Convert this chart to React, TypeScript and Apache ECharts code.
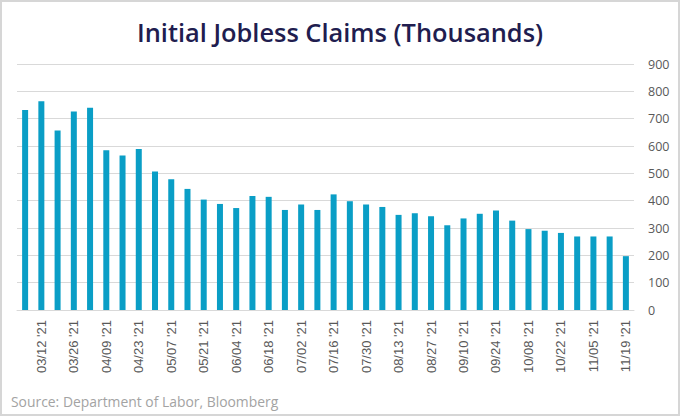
import React, { useEffect, useRef } from "react";
import * as echarts from "echarts";

const categories = [
  "03/05 '21", "03/12 '21", "03/19 '21", "03/26 '21", "04/02 '21", "04/09 '21", "04/16 '21", "04/23 '21",
  "04/30 '21", "05/07 '21", "05/14 '21", "05/21 '21", "05/28 '21", "06/04 '21", "06/11 '21", "06/18 '21",
  "06/25 '21", "07/02 '21", "07/09 '21", "07/16 '21", "07/23 '21", "07/30 '21", "08/06 '21", "08/13 '21",
  "08/20 '21", "08/27 '21", "09/03 '21", "09/10 '21", "09/17 '21", "09/24 '21", "10/01 '21", "10/08 '21",
  "10/15 '21", "10/22 '21", "10/29 '21", "11/05 '21", "11/12 '21", "11/19 '21",
];

const claims = [
  732, 764, 657, 726, 740, 584, 565, 589, 507, 478, 443, 404, 388, 373, 417, 414,
  366, 386, 366, 423, 398, 386, 377, 348, 354, 343, 310, 335, 352, 364, 327, 296,
  290, 282, 269, 269, 269, 197,
];

const yTicks = { min: 0, max: 900, interval: 100 };

const titleText = "Initial Jobless Claims (Thousands)";
const sourceText = "Source: Department of Labor, Bloomberg";

export default function App() {
  const ref = useRef<HTMLDivElement>(null);
  useEffect(() => {
    document.body.style.margin = "0";
    const chart = echarts.init(ref.current!, undefined, { renderer: "svg" });
    chart.setOption({
      animation: false,
      backgroundColor: "#ffffff",
      title: {
        text: titleText,
        left: "center",
        top: 14,
        textStyle: {
          fontFamily: "Open Sans",
          fontWeight: 600,
          fontSize: 25.4,
          color: "#211d4f",
        },
      },
      graphic: [
        {
          type: "rect",
          shape: { x: 1, y: 1, width: 678, height: 414 },
          style: { fill: "none", stroke: "#d6d6d6", lineWidth: 2 },
          silent: true,
        },
        {
          type: "text",
          left: 11,
          top: 394,
          style: {
            text: sourceText,
            font: "13.9px 'Open Sans'",
            fill: "#a3a3a3",
          },
        },
      ],
      grid: { left: 17, right: 46, top: 64, bottom: 106 },
      xAxis: {
        type: "category",
        data: categories,
        boundaryGap: true,
        axisLine: { show: true, lineStyle: { color: "#d9d9d9", width: 1 } },
        axisTick: { show: false },
        axisLabel: {
          rotate: 90,
          interval: (index: number) => index % 2 === 1,
          margin: 10,
          fontFamily: "Liberation Sans",
          fontSize: 13,
          color: "#595959",
        },
      },
      yAxis: {
        type: "value",
        position: "right",
        min: yTicks.min,
        max: yTicks.max,
        interval: yTicks.interval,
        axisLine: { show: false },
        axisTick: { show: false },
        splitLine: { lineStyle: { color: "#d9d9d9", width: 1 } },
        axisLabel: {
          margin: 14,
          fontFamily: "Open Sans",
          fontSize: 12.5,
          color: "#595959",
        },
      },
      series: [
        {
          type: "bar",
          data: claims,
          barWidth: 6,
          itemStyle: { color: "#0a9ec6" },
        },
      ],
    });
    return () => chart.dispose();
  }, []);
  return <div ref={ref} style={{ width: 680, height: 416 }} />;
}
